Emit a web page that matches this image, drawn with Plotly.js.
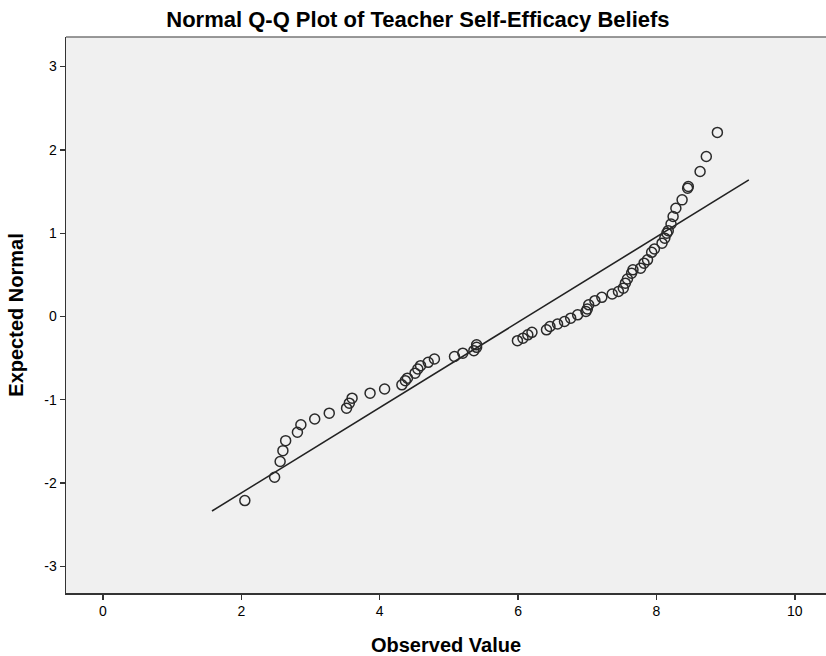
<!DOCTYPE html>
<html>
<head>
<meta charset="utf-8">
<script src="https://cdn.plot.ly/plotly-3.0.1.min.js"></script>
<style>
html,body{margin:0;padding:0;background:#fff;}
#chart{width:826px;height:656px;}
</style>
</head>
<body>
<div id="chart"></div>
<script>
const observedValues = [2.05,2.48,2.56,2.60,2.64,2.81,2.86,3.06,3.27,3.52,3.56,3.60,3.86,4.07,4.32,4.37,4.40,4.51,4.55,4.59,4.70,4.79,5.08,5.20,5.36,5.40,5.40,5.99,6.07,6.14,6.20,6.41,6.46,6.57,6.67,6.76,6.86,6.98,7.00,7.02,7.11,7.21,7.36,7.45,7.52,7.55,7.58,7.64,7.66,7.77,7.82,7.87,7.93,7.97,8.08,8.12,8.15,8.17,8.21,8.24,8.28,8.37,8.45,8.46,8.63,8.72,8.88];
const expectedNormal = [-2.21,-1.93,-1.74,-1.61,-1.49,-1.39,-1.30,-1.23,-1.16,-1.10,-1.04,-0.98,-0.92,-0.87,-0.82,-0.77,-0.74,-0.68,-0.63,-0.59,-0.55,-0.51,-0.48,-0.44,-0.41,-0.37,-0.34,-0.29,-0.26,-0.22,-0.19,-0.16,-0.12,-0.09,-0.06,-0.02,0.02,0.06,0.09,0.14,0.19,0.23,0.27,0.30,0.34,0.40,0.45,0.52,0.56,0.58,0.64,0.68,0.77,0.81,0.88,0.94,1.00,1.03,1.11,1.20,1.30,1.40,1.54,1.56,1.74,1.92,2.21];
// Reference line end points
const lineX = [1.575, 9.335];
const lineY = [-2.335, 1.64];
const xTicks = [0,2,4,6,8,10];
const yTicks = [-3,-2,-1,0,1,2,3];

const font = "'Liberation Sans', Arial, sans-serif";

const traces = [
  {
    x: lineX, y: lineY, type: 'scatter', mode: 'lines',
    line: {color: '#222', width: 1.6}, hoverinfo: 'skip', showlegend: false
  },
  {
    x: observedValues, y: expectedNormal, type: 'scatter', mode: 'markers',
    marker: {symbol: 'circle-open', size: 10, color: '#2a2a2a', line: {width: 1.5, color: '#2a2a2a'}},
    showlegend: false
  }
];

const layout = {
  width: 826, height: 656,
  paper_bgcolor: '#ffffff',
  plot_bgcolor: '#f0f0f0',
  margin: {l: 66, r: 0, t: 37, b: 63},
  showlegend: false,
  title: {
    text: '<b>Normal Q-Q Plot of Teacher Self-Efficacy Beliefs</b>',
    font: {family: font, size: 22, color: '#000'},
    x: 0.506, xanchor: 'center', y: 0.971, yanchor: 'middle'
  },
  xaxis: {
    range: [-0.535, 10.45],
    tickvals: xTicks, ticktext: xTicks.map(String),
    ticks: 'outside', ticklen: 5, tickwidth: 1.3, tickcolor: '#333',
    showgrid: false, zeroline: false,
    showline: true, linecolor: '#333', linewidth: 1.5,
    tickfont: {family: font, size: 14, color: '#000'},
    title: {text: '<b>Observed Value</b>', font: {family: font, size: 20, color: '#000'}, standoff: 19}
  },
  yaxis: {
    range: [-3.319, 3.355],
    tickvals: yTicks, ticktext: yTicks.map(String),
    ticks: 'outside', ticklen: 5, tickwidth: 1.3, tickcolor: '#333',
    showgrid: false, zeroline: false,
    showline: true, linecolor: '#333', linewidth: 1.5,
    tickfont: {family: font, size: 14, color: '#000'},
    title: {text: '<b>Expected Normal</b>', font: {family: font, size: 20, color: '#000'}, standoff: 15}
  },
  shapes: [
    {type: 'line', xref: 'paper', yref: 'paper', x0: 0, x1: 1, y0: 1, y1: 1,
     line: {color: '#777', width: 1.5}}
  ]
};

Plotly.newPlot('chart', traces, layout, {displayModeBar: false, staticPlot: true});
</script>
</body>
</html>
